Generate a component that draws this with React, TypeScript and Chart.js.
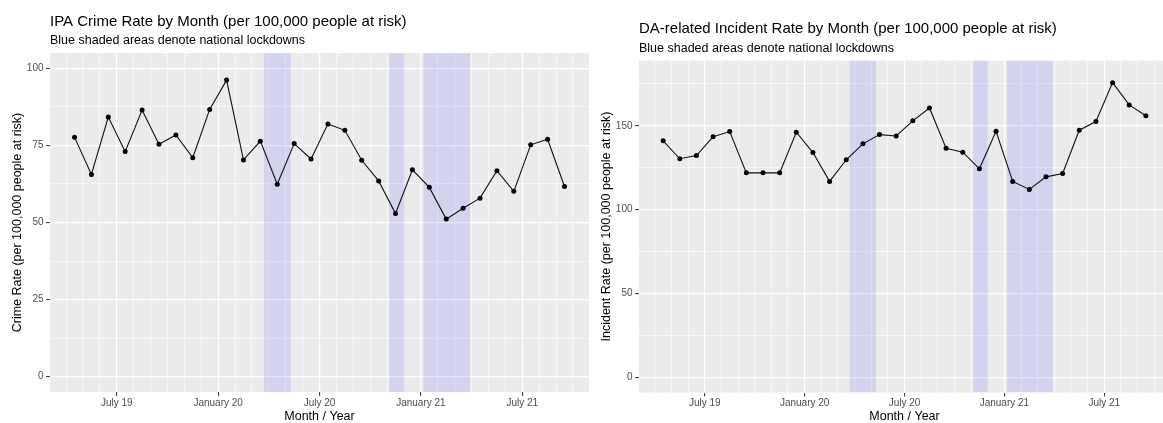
import React, { useEffect, useRef } from 'react';
import { Chart, registerables } from 'chart.js';

Chart.register(...registerables);

// Monthly observations, April 2019 – September 2021
const MONTHS = [
  '2019-04', '2019-05', '2019-06', '2019-07', '2019-08', '2019-09',
  '2019-10', '2019-11', '2019-12', '2020-01', '2020-02', '2020-03',
  '2020-04', '2020-05', '2020-06', '2020-07', '2020-08', '2020-09',
  '2020-10', '2020-11', '2020-12', '2021-01', '2021-02', '2021-03',
  '2021-04', '2021-05', '2021-06', '2021-07', '2021-08', '2021-09',
];

// IPA crime rate per 100,000 people at risk
const IPA_RATE = [
  77.7, 65.6, 84.2, 73.0, 86.5, 75.4, 78.4, 71.0, 86.7, 96.2,
  70.3, 76.4, 62.4, 75.6, 70.6, 82.0, 79.9, 70.2, 63.5, 52.9,
  67.1, 61.4, 51.1, 54.6, 57.9, 66.8, 60.1, 75.2, 77.0, 61.7,
];

// DA-related incident rate per 100,000 people at risk
const DA_RATE = [
  141.1, 130.4, 132.3, 143.5, 146.6, 122.0, 122.0, 122.0, 146.2, 134.1,
  116.9, 129.8, 139.3, 144.8, 144.0, 153.0, 160.7, 136.7, 134.3, 124.4,
  146.8, 116.9, 112.1, 119.6, 121.6, 147.4, 152.6, 175.8, 162.5, 156.0,
];

// National lockdown periods (start, end)
const LOCKDOWN_STARTS = ['2020-03-23', '2020-11-05', '2021-01-06'];
const LOCKDOWN_ENDS = ['2020-05-10', '2020-12-02', '2021-03-29'];

// Labelled date breaks on the x axis
const X_TICK_DATES = ['2019-07-01', '2020-01-01', '2020-07-01', '2021-01-01', '2021-07-01'];
const X_TICK_LABELS = ['July 19', 'January 20', 'July 20', 'January 21', 'July 21'];

const FONT = '"Liberation Sans", Arial, Helvetica, sans-serif';
const BASE_YEAR = 2019;

// Position on a continuous month axis (months since Jan 2019).
// A bare "YYYY-MM" sits mid-month; a full date sits at its day.
function monthPos(iso: string): number {
  const [y, m, d] = iso.split('-').map(Number);
  const daysInMonth = new Date(y, m, 0).getDate();
  const frac = d ? (d - 1) / daysInMonth : 0.5;
  return (y - BASE_YEAR) * 12 + (m - 1) + frac;
}

const panelBackground = {
  id: 'panelBackground',
  beforeDraw(chart: any) {
    const { ctx, chartArea } = chart;
    ctx.save();
    ctx.fillStyle = '#EBEBEB';
    ctx.fillRect(chartArea.left, chartArea.top, chartArea.right - chartArea.left, chartArea.bottom - chartArea.top);
    ctx.restore();
  },
};

const lockdownBands = {
  id: 'lockdownBands',
  beforeDatasetsDraw(chart: any) {
    const { ctx, chartArea, scales } = chart;
    ctx.save();
    ctx.beginPath();
    ctx.rect(chartArea.left, chartArea.top, chartArea.right - chartArea.left, chartArea.bottom - chartArea.top);
    ctx.clip();
    ctx.fillStyle = 'rgba(0, 0, 255, 0.1)';
    LOCKDOWN_STARTS.forEach((start, i) => {
      const x1 = scales.x.getPixelForValue(monthPos(start));
      const x2 = scales.x.getPixelForValue(monthPos(LOCKDOWN_ENDS[i]));
      ctx.fillRect(x1, chartArea.top, x2 - x1, chartArea.bottom - chartArea.top);
    });
    ctx.restore();
  },
};

const headings = {
  id: 'headings',
  afterDraw(chart: any, _args: any, opts: any) {
    const { ctx, chartArea } = chart;
    ctx.save();
    ctx.fillStyle = '#000';
    ctx.textAlign = 'left';
    ctx.textBaseline = 'alphabetic';
    ctx.font = `15px ${FONT}`;
    ctx.fillText(opts.title, chartArea.left, opts.titleBaseline);
    ctx.font = `12.5px ${FONT}`;
    ctx.fillText(opts.subtitle, chartArea.left, opts.subtitleBaseline);
    ctx.restore();
  },
};

type PanelSpec = {
  values: number[];
  yMin: number;
  yMax: number;
  yMajor: number;
  yMinor: number;
  title: string;
  subtitle: string;
  yTitle: string;
  titleBaseline: number;
  subtitleBaseline: number;
  padTop: number;
  padRight: number;
  xAxisHeight: number;
};

function buildChart(canvas: HTMLCanvasElement, spec: PanelSpec): Chart {
  const xs = MONTHS.map((m) => monthPos(m));
  const span = xs[xs.length - 1] - xs[0];
  const xMin = xs[0] - span * 0.05;
  const xMax = xs[xs.length - 1] + span * 0.05;
  const xLabels = new Map<number, string>(X_TICK_DATES.map((d, i) => [monthPos(d), X_TICK_LABELS[i]]));
  const isMajorX = (v: any) => xLabels.has(v);
  const isMajorY = (v: number) => Math.abs(v / spec.yMajor - Math.round(v / spec.yMajor)) < 1e-6;

  return new Chart(canvas, {
    type: 'line',
    data: {
      datasets: [
        {
          data: xs.map((x, i) => ({ x, y: spec.values[i] })),
          borderColor: '#111',
          borderWidth: 1.1,
          pointRadius: 2.5,
          pointHoverRadius: 2.5,
          pointBackgroundColor: '#000',
          pointBorderColor: '#000',
          pointBorderWidth: 0,
          tension: 0,
        },
      ],
    },
    options: {
      responsive: false,
      animation: false,
      events: [],
      layout: { padding: { top: spec.padTop, left: 0, right: spec.padRight, bottom: 0 } },
      plugins: {
        legend: { display: false },
        tooltip: { enabled: false },
        headings: {
          title: spec.title,
          subtitle: spec.subtitle,
          titleBaseline: spec.titleBaseline,
          subtitleBaseline: spec.subtitleBaseline,
        },
      } as any,
      scales: {
        x: {
          type: 'linear',
          bounds: 'data',
          min: xMin,
          max: xMax,
          afterBuildTicks: (scale: any) => {
            const ticks = [];
            for (let m = Math.ceil(xMin); m <= xMax; m++) ticks.push({ value: m });
            scale.ticks = ticks;
          },
          afterFit: (scale: any) => {
            scale.height = spec.xAxisHeight;
          },
          ticks: {
            autoSkip: false,
            maxRotation: 0,
            minRotation: 0,
            padding: 1,
            color: '#4D4D4D',
            font: { family: FONT, size: 10 },
            callback: (v: any) => xLabels.get(Number(v)) ?? '',
          },
          grid: {
            color: '#FFFFFF',
            lineWidth: (ctx: any) => (isMajorX(ctx.tick?.value) ? 1.2 : 0.6),
            tickColor: (ctx: any) => (isMajorX(ctx.tick?.value) ? '#333333' : 'rgba(0,0,0,0)'),
            tickLength: 4,
            tickWidth: 1,
          },
          border: { display: false },
          title: {
            display: true,
            text: 'Month / Year',
            color: '#000',
            font: { family: FONT, size: 12.5, lineHeight: 1 },
            padding: { top: 0, bottom: 0.5 },
          },
        },
        y: {
          type: 'linear',
          bounds: 'data',
          min: spec.yMin,
          max: spec.yMax,
          afterBuildTicks: (scale: any) => {
            const ticks = [];
            for (let v = 0; v <= spec.yMax; v += spec.yMinor) ticks.push({ value: v });
            scale.ticks = ticks;
          },
          afterFit: (scale: any) => {
            scale.width = 50;
          },
          ticks: {
            autoSkip: false,
            padding: 2.5,
            color: '#4D4D4D',
            font: { family: FONT, size: 10 },
            callback: (v: any) => (isMajorY(Number(v)) ? String(v) : ''),
          },
          grid: {
            color: '#FFFFFF',
            lineWidth: (ctx: any) => (isMajorY(ctx.tick?.value) ? 1.2 : 0.6),
            tickColor: (ctx: any) => (isMajorY(ctx.tick?.value) ? '#333333' : 'rgba(0,0,0,0)'),
            tickLength: 4,
            tickWidth: 1,
          },
          border: { display: false },
          title: {
            display: true,
            text: spec.yTitle,
            color: '#000',
            font: { family: FONT, size: 12.5, lineHeight: 1 },
            padding: { top: 11.75, bottom: 0 },
          },
        },
      },
    } as any,
    plugins: [panelBackground, lockdownBands, headings],
  });
}

export default function App() {
  const leftRef = useRef<HTMLCanvasElement>(null);
  const rightRef = useRef<HTMLCanvasElement>(null);

  useEffect(() => {
    if (!leftRef.current || !rightRef.current) return;
    const left = buildChart(leftRef.current, {
      values: IPA_RATE,
      yMin: -5,
      yMax: 105,
      yMajor: 25,
      yMinor: 12.5,
      title: 'IPA Crime Rate by Month (per 100,000 people at risk)',
      subtitle: 'Blue shaded areas denote national lockdowns',
      yTitle: 'Crime Rate (per 100,000 people at risk)',
      titleBaseline: 25.7,
      subtitleBaseline: 44.3,
      padTop: 53,
      padRight: 6,
      xAxisHeight: 31,
    });
    const right = buildChart(rightRef.current, {
      values: DA_RATE,
      yMin: -9,
      yMax: 189,
      yMajor: 50,
      yMinor: 25,
      title: 'DA-related Incident Rate by Month (per 100,000 people at risk)',
      subtitle: 'Blue shaded areas denote national lockdowns',
      yTitle: 'Incident Rate (per 100,000 people at risk)',
      titleBaseline: 33.3,
      subtitleBaseline: 51.9,
      padTop: 60.5,
      padRight: 11,
      xAxisHeight: 30.5,
    });
    return () => {
      left.destroy();
      right.destroy();
    };
  }, []);

  return (
    <div
      style={{
        position: 'fixed',
        left: 0,
        top: 0,
        width: 1163,
        height: 423,
        overflow: 'hidden',
        background: '#FFFFFF',
      }}
    >
      <canvas
        ref={leftRef}
        width={595}
        height={423}
        style={{ position: 'absolute', left: 0, top: 0, width: 595, height: 423 }}
      />
      <canvas
        ref={rightRef}
        width={592}
        height={423}
        style={{ position: 'absolute', left: 589, top: 0, width: 592, height: 423 }}
      />
    </div>
  );
}
